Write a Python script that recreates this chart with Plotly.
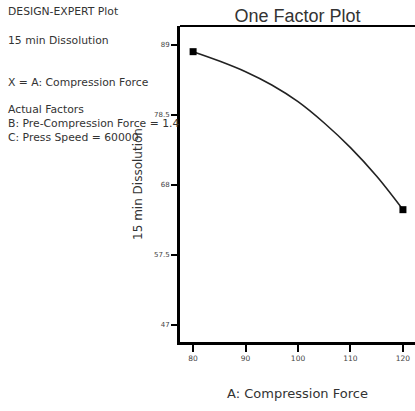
import plotly.graph_objects as go

# Data
x_vals = [80, 85, 90, 95, 100, 105, 110, 115, 120]
y_vals = [88.0, 86.6, 85.0, 83.0, 80.5, 77.3, 73.6, 69.3, 64.3]

x_ticks = [80, 90, 100, 110, 120]
x_tick_text = ["80", "90", "100", "110", "120"]
y_ticks = [47, 57.5, 68, 78.5, 89]
y_tick_text = ["47", "57.5", "68", "78.5", "89"]

side_text = [
    ("DESIGN-EXPERT Plot", 12),
    ("15 min Dissolution", 40),
    ("X = A: Compression Force", 82),
    ("Actual Factors", 110),
    ("B: Pre-Compression Force = 1.4", 123),
    ("C: Press Speed = 60000", 137),
]

WIDE = "DejaVu Sans, Verdana, sans-serif"

fig = go.Figure()
fig.add_trace(go.Scatter(
    x=x_vals, y=y_vals, mode="lines", line=dict(color="#222", width=1.6, shape="spline"),
    hoverinfo="skip", showlegend=False))
fig.add_trace(go.Scatter(
    x=[x_vals[0], x_vals[-1]], y=[y_vals[0], y_vals[-1]], mode="markers",
    marker=dict(symbol="square", size=7, color="black"), showlegend=False))

W, H = 415, 411
ml, mt, mb = 180, 26, 69
fig.update_layout(
    width=W, height=H,
    margin=dict(l=ml, r=0, t=mt, b=mb),
    paper_bgcolor="white", plot_bgcolor="white",
    font=dict(family="Liberation Sans, Arial, sans-serif", color="#333"),
    title=dict(text="One Factor Plot", x=(ml + (W - ml) / 2) / W, xanchor="center",
               y=1 - 16 / H, yanchor="middle",
               font=dict(size=18, color="#333", family="Liberation Sans, Arial, sans-serif")),
    xaxis=dict(range=[77.5, 122.3], tickvals=x_ticks, ticktext=x_tick_text,
               showgrid=False, zeroline=False, showline=True, linecolor="black", linewidth=3,
               ticks="outside", ticklen=7, tickwidth=2, tickcolor="black",
               tickfont=dict(size=7.5, color="#444", family=WIDE),
               title=dict(text="A: Compression Force", font=dict(size=13, color="#333", family=WIDE),
                          standoff=27)),
    yaxis=dict(range=[44.45, 91.85], tickvals=y_ticks, ticktext=y_tick_text,
               showgrid=False, zeroline=False, showline=True, linecolor="black", linewidth=3,
               ticks="outside", ticklen=6, tickwidth=2, tickcolor="black",
               tickfont=dict(size=7, color="#444", family=WIDE),
               title=dict(text="15 min Dissolution", font=dict(size=12, color="#333", family=WIDE),
                          standoff=9)),
)
fig.add_shape(type="line", xref="paper", yref="paper", x0=0, x1=1, y0=1, y1=1,
              line=dict(color="black", width=2))
for txt, ypx in side_text:
    fig.add_annotation(text=txt, xref="paper", yref="paper",
                       x=-(ml - 6) / (W - ml), xanchor="left",
                       y=1 - (ypx - mt) / (H - mt - mb), yanchor="middle",
                       showarrow=False, font=dict(size=10.8, color="#333", family=WIDE))

fig.write_html("out.html", config={"displayModeBar": False},
               post_script="document.body.style.margin='0';document.body.style.overflow='hidden';")
